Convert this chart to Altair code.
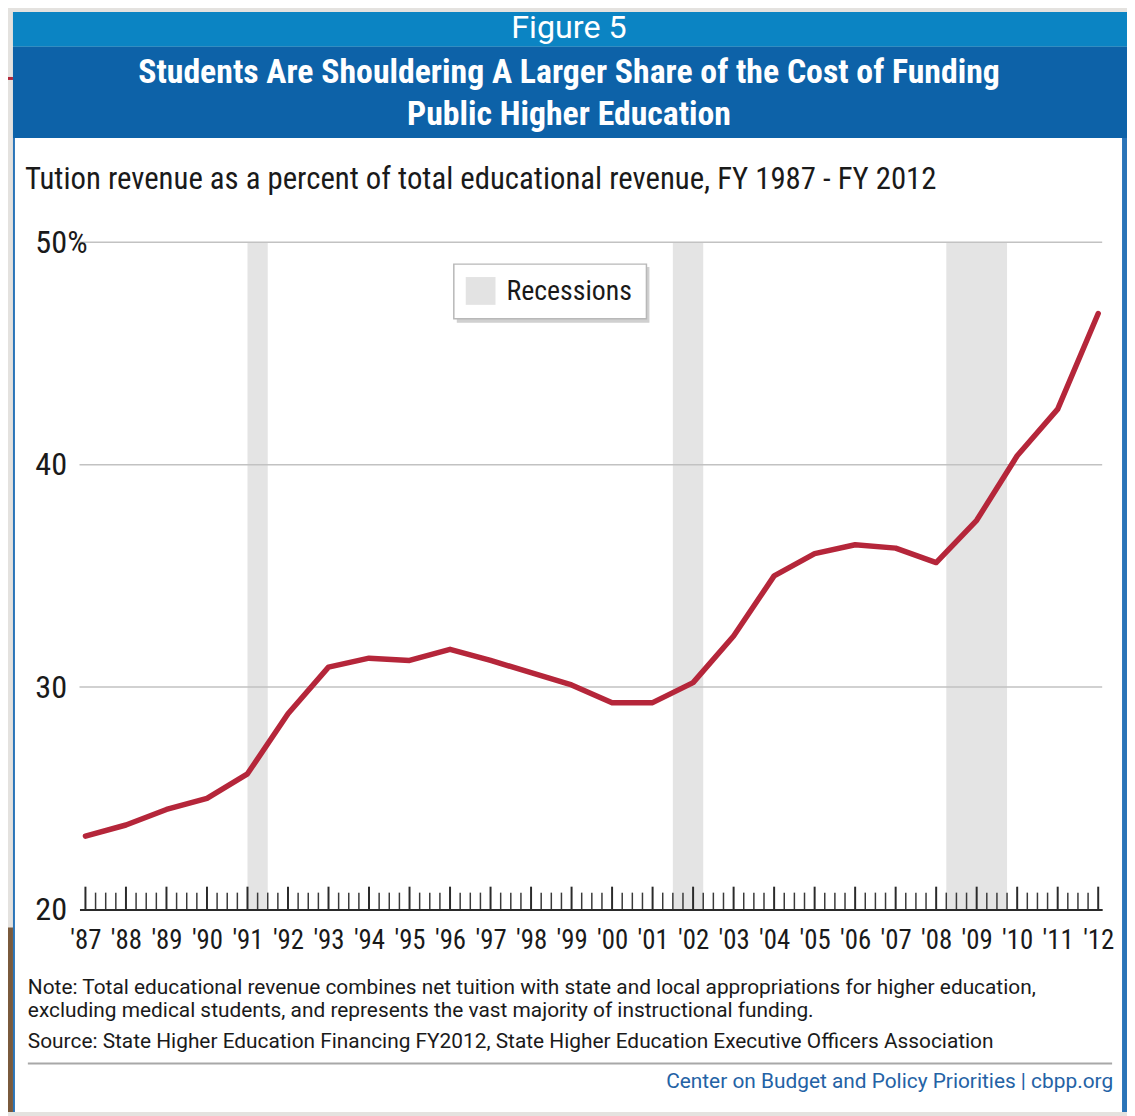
import altair as alt
import pandas as pd

# ---------------- data ----------------
YEARS = list(range(1987, 2013))
TUITION_SHARE = [23.3, 23.8, 24.5, 25.0, 26.1, 28.8, 30.9, 31.3, 31.2, 31.7,
                 31.2, 30.65, 30.1, 29.3, 29.3, 30.2, 32.3, 35.0, 36.0, 36.4,
                 36.25, 35.6, 37.5, 40.4, 42.5, 46.8]
REC_START = [1991.0, 2001.5, 2008.25]
REC_END = [1991.5, 2002.25, 2009.75]
Y_TICKS = [20, 30, 40, 50]
GRID_VALUES = [30, 40, 50]

MAJOR_TICKS = YEARS
MINOR_TICKS = [y + q / 4 for y in YEARS[:-1] for q in (1, 2, 3)]

TITLE_TOP = "Figure 5"
TITLE_1 = "Students Are Shouldering A Larger Share of the Cost of Funding"
TITLE_2 = "Public Higher Education"
SUBTITLE = "Tution revenue as a percent of total educational revenue, FY 1987 - FY 2012"
LEGEND_LABEL = "Recessions"
NOTE_1 = "Note: Total educational revenue combines net tuition with state and local appropriations for higher education,"
NOTE_2 = "excluding medical students, and represents the vast majority of instructional funding."
SOURCE = "Source: State Higher Education Financing FY2012, State Higher Education Executive Officers Association"
FOOTER = "Center on Budget and Policy Priorities | cbpp.org"

# ---------------- layout ----------------
W, H = 1030, 672
FC = "Roboto Condensed, DejaVu Sans Condensed, sans-serif"
FR = "Roboto, DejaVu Sans, sans-serif"

line_df = pd.DataFrame({"year": YEARS, "share": TUITION_SHARE})
rec_df = pd.DataFrame({"start": REC_START, "end": REC_END})
grid_df = pd.DataFrame({"v": GRID_VALUES})
major_df = pd.DataFrame({"q": MAJOR_TICKS})
minor_df = pd.DataFrame({"q": MINOR_TICKS})
one = pd.DataFrame({"k": [0]})

xscale = alt.Scale(domain=[1986.853, 2012.098], nice=False, zero=False)
yscale = alt.Scale(domain=[20, 50], nice=False, zero=False)

xaxis = alt.Axis(values=YEARS, labelExpr="\"'\" + substring(toString(datum.value), 2, 4)",
                 ticks=False, tickSize=0, grid=False, domainColor="#2a2a2a",
                 domainWidth=2, labelFont=FC, labelFontSize=27, labelColor="#1a1a1a",
                 labelPadding=31, labelBaseline="middle", labelFlush=False,
                 labelOverlap=False, zindex=1, title=None)
yaxis = alt.Axis(values=Y_TICKS, labelExpr="datum.value == 50 ? '50%' : datum.label",
                 ticks=False, tickSize=0, domain=False, grid=False,
                 labelFont=FC, labelFontSize=32.5, labelColor="#1a1a1a",
                 labelAlign="left", labelPadding=45, labelBaseline="middle",
                 labelFlush=False, labelOverlap=False, zindex=1, title=None)


def box(x1, x2, y1, y2, color, **kw):
    return alt.Chart(one).mark_rect(color=color, **kw).encode(
        x=alt.value(x1), x2=alt.value(x2), y=alt.value(y1), y2=alt.value(y2))


def label(txt, x, y, size, color="#1a1a1a", align="left", weight="normal", font=FC):
    return alt.Chart(pd.DataFrame({"t": [txt]})).mark_text(
        font=font, fontSize=size, color=color, align=align, baseline="middle",
        fontWeight=weight).encode(x=alt.value(x), y=alt.value(y), text="t:N")


frame = [
    box(-72, -67, 690, 876, "#7a5a3c"),
    alt.Chart(one).mark_rule(color="#b3283b", strokeWidth=3).encode(
        x=alt.value(-72), x2=alt.value(-67), y=alt.value(-165)),
    box(-67, 1055, -232, -197, "#0b84c3"),
    box(-67, 1055, -197, -105, "#0d62a8"),
    box(-67, 1055, -105, 876, "#2a74b8"),
    box(-65, 1050, -105, 876, "#ffffff"),
]

header = [
    label(TITLE_TOP, 493, -216, 32.5, color="#ffffff", align="center", font=FR),
    label(TITLE_1, 493, -170, 34, color="#ffffff", align="center", weight="bold"),
    label(TITLE_2, 493, -128, 34, color="#ffffff", align="center", weight="bold"),
    label(SUBTITLE, -55, -63, 31),
]

bands = alt.Chart(rec_df).mark_rect(color="#e4e4e4").encode(
    x=alt.X("start:Q", scale=xscale, axis=xaxis),
    x2="end:Q",
    y=alt.value(0), y2=alt.value(H))

grid = alt.Chart(grid_df).mark_rule(color="#c2c2c2", strokeWidth=1.5).encode(
    y=alt.Y("v:Q", scale=yscale, axis=yaxis))

major = alt.Chart(major_df).mark_rule(color="#2a2a2a", strokeWidth=2).encode(
    x=alt.X("q:Q", scale=xscale, axis=xaxis),
    y=alt.value(H - 23), y2=alt.value(H))

minor = alt.Chart(minor_df).mark_rule(color="#3a3a3a", strokeWidth=1.5).encode(
    x=alt.X("q:Q", scale=xscale, axis=xaxis),
    y=alt.value(H - 17), y2=alt.value(H))

line = alt.Chart(line_df).mark_line(
    color="#b5263a", strokeWidth=5.5, strokeCap="round", strokeJoin="round").encode(
    x=alt.X("year:Q", scale=xscale, axis=xaxis),
    y=alt.Y("share:Q", scale=yscale, axis=yaxis),
)

legend = [
    box(380, 574, 25, 81, "#c4c4c4", opacity=0.8),
    box(377, 571, 22, 77, "#ffffff", stroke="#b8b8b8", strokeWidth=1.5),
    box(389, 419, 35, 63, "#e3e3e3"),
    label(LEGEND_LABEL, 430, 50, 28),
]

notes = [
    label(NOTE_1, -52, 751, 21, font=FR),
    label(NOTE_2, -52, 774, 21, font=FR),
    label(SOURCE, -52, 805, 21, font=FR),
    alt.Chart(one).mark_rule(color="#a8a8a8", strokeWidth=2).encode(
        x=alt.value(-52), x2=alt.value(1040), y=alt.value(827)),
    label(FOOTER, 1041, 846, 21, color="#2462a5", align="right", font=FR),
]

chart = alt.layer(
    *frame, *header, bands, grid, minor, major, line, *legend, *notes
).properties(
    width=W, height=H,
    padding={"left": 72, "top": 232, "right": 25, "bottom": 204},
    autosize=alt.AutoSizeParams(type="none"),
    background="#e4e2df",
).configure_view(stroke=None)

chart.save("out.html", embed_options={"renderer": "svg", "actions": False})
